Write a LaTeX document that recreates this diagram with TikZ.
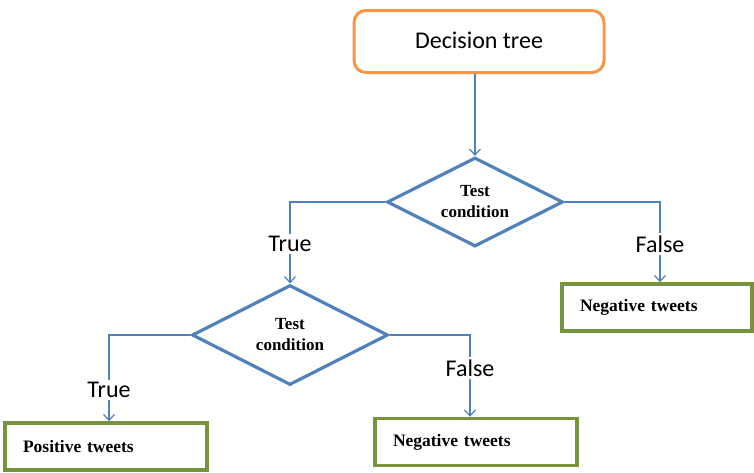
\documentclass[tikz,border=0pt]{standalone}
\usepackage{fontspec}
\setmainfont{Carlito}
\newfontfamily\serifb{Liberation Serif}
\usetikzlibrary{shapes.geometric,arrows.meta,calc}
\definecolor{lblue}{RGB}{79,129,189}
\definecolor{lorange}{RGB}{247,150,70}
\definecolor{lgreen}{RGB}{119,147,60}
\begin{document}
\begin{tikzpicture}[x=1pt,y=-1pt,
  topbox/.style={draw=lorange,line width=3pt,rounded corners=12pt,minimum width=250pt,minimum height=62pt,font=\fontsize{24}{28}\selectfont,fill=white},
  testbox/.style={draw=lblue,line width=3.2pt,diamond,inner sep=0pt},
  testtext/.style={font=\serifb\bfseries\fontsize{17}{21}\selectfont,align=center,inner sep=0pt},
  leafbox/.style={draw=lgreen,line width=3.5pt,inner xsep=18pt,align=left,font=\serifb\bfseries\fontsize{17.5}{20}\selectfont,anchor=center},
  lbl/.style={font=\fontsize{24}{28}\selectfont,inner sep=2pt},
  conn/.style={draw=lblue,line width=1.3pt},
  arr/.style={conn,-{Straight Barb[length=6pt,width=11pt,line width=1.2pt]}}]
\useasboundingbox (0,0) rectangle (754,472);
\node[topbox] (dt) at (479,41.5) {\raisebox{3pt}{Decision tree}};
\node[testbox,minimum width=176pt,minimum height=89pt] (d1) at (475,202) {};
\node[testtext] (d1t) at (d1.center) {Test\\condition};
\node[testbox,minimum width=196pt,minimum height=100pt] (d2) at (290,335) {};
\node[testtext] (d2t) at (d2.center) {Test\\condition};
\node[lbl] (t1) at (290,244) {True};
\node[lbl] (f1) at (660,244) {False};
\node[lbl] (t2) at (109,390) {True};
\node[lbl] (f2) at (470,368) {False};
\node[leafbox,minimum width=190pt,minimum height=47pt,text width=154pt] (n1) at (657,307.5) {Negative tweets};
\node[leafbox,minimum width=202pt,minimum height=47pt,text width=166pt] (p) at (106,446.5) {Positive tweets};
\node[leafbox,minimum width=202pt,minimum height=47pt,text width=166pt] (n2) at (476,442) {Negative tweets};
\draw[arr] (d1.north |- dt.south) -- (d1.north);
\draw[conn] (d1.west) -| (t1.north);
\draw[arr] (t1.south) -- (d2.north);
\draw[conn] (d1.east) -| (f1.north);
\draw[arr] (f1.south) -- (f1.south |- n1.north);
\draw[conn] (d2.west) -| (t2.north);
\draw[arr] (t2.south) -- (t2.south |- p.north);
\draw[conn] (d2.east) -| (f2.north);
\draw[arr] (f2.south) -- (f2.south |- n2.north);
\end{tikzpicture}
\end{document}
